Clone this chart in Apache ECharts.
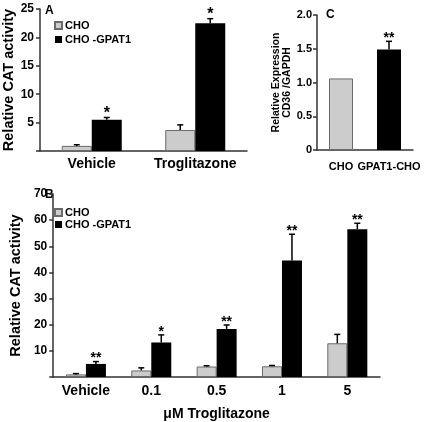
<!DOCTYPE html>
<html><head><meta charset="utf-8">
<script src="https://cdn.jsdelivr.net/npm/echarts@6/dist/echarts.min.js"></script>
<style>html,body{margin:0;padding:0;background:#fff}#c{width:430px;height:422px}</style>
</head><body><div id="c"></div>
<script>
const FONT = '"Liberation Sans", Arial, sans-serif';

// Panel A
const aCategories = ['Vehicle', 'Troglitazone'];
const aCho = [0.9, 3.7];
const aChoErr = [0.2, 0.9];
const aGpat = [5.5, 22.5];
const aGpatErr = [0.4, 0.8];
const aGpatStars = ['*', '*'];
const aYTicks = [5, 10, 15, 20, 25];

// Panel B
const bCategories = ['Vehicle', '0.1', '0.5', '1', '5'];
const bCho = [1.0, 2.5, 4.0, 4.1, 12.9];
const bChoErr = [0.3, 1.0, 0.3, 0.3, 3.4];
const bGpat = [5.0, 13.2, 18.4, 44.6, 56.5];
const bGpatErr = [0.9, 2.9, 1.5, 10.0, 2.3];
const bGpatStars = ['**', '*', '**', '**', '**'];
const bYTicks = [10, 20, 30, 40, 50, 60, 70];

// Panel C
const cCategories = ['CHO', 'GPAT1-CHO'];
const cValues = [1.06, 1.49];
const cErr = [0, 0.12];
const cStars = ['', '**'];
const cYTicks = ['0', '0.5', '1.0', '1.5', '2.0'];

const GRAY = '#cccccc', GRAY_BORDER = '#6a6a6a', BLACK = '#000';
const AX = '#333';

function errSeries(gi, vals, errs, stars, offset, starSize) {
  return {
    type: 'custom', xAxisIndex: gi, yAxisIndex: gi, silent: true, z: 5,
    data: vals.map((v, i) => [i, v, errs[i]]),
    renderItem: function (params, api) {
      const i = api.value(0), v = api.value(1), e = api.value(2);
      const p0 = api.coord([i, v]);
      const p1 = api.coord([i, v + e]);
      const x = p0[0] + offset;
      const children = [];
      if (e > 0) {
        children.push({ type: 'line', shape: { x1: x, y1: p0[1], x2: x, y2: p1[1] }, style: { stroke: '#000', lineWidth: 1.5 } });
        children.push({ type: 'line', shape: { x1: x - 3, y1: p1[1], x2: x + 3, y2: p1[1] }, style: { stroke: '#000', lineWidth: 1.5 } });
      }
      const s = stars ? stars[i] : '';
      if (s) {
        children.push({ type: 'text', x: x, y: p1[1] + 4, style: { text: s, font: 'bold ' + starSize + 'px ' + FONT, fill: '#000', align: 'center', verticalAlign: 'bottom' } });
      }
      return { type: 'group', children: children };
    }
  };
}

function yAxisBase(gi, max, interval, fs, margin, fmt) {
  return {
    type: 'value', gridIndex: gi, min: 0, max: max, interval: interval,
    axisLine: { show: true, lineStyle: { color: AX, width: 1.5 } },
    axisTick: { show: true, length: 4, lineStyle: { color: AX, width: 1.5 } },
    splitLine: { show: false },
    axisLabel: { margin: margin, color: '#000', fontFamily: FONT, fontWeight: 'bold', fontSize: fs, formatter: fmt }
  };
}

function xAxisBase(gi, cats, fs, margin) {
  return {
    type: 'category', gridIndex: gi, data: cats,
    axisLine: { show: true, lineStyle: { color: AX, width: 1.5 } },
    axisTick: { show: false },
    axisLabel: { margin: margin, color: '#000', fontFamily: FONT, fontWeight: 'bold', fontSize: fs, interval: 0 }
  };
}

const chart = echarts.init(document.getElementById('c'), null, { renderer: 'canvas' });
const grayStyle = { color: GRAY, borderColor: GRAY_BORDER, borderWidth: 1 };
const blackStyle = { color: BLACK };
const titleStyle = { color: '#000', fontFamily: FONT, fontWeight: 'bold', fontSize: 14.5 };
const legendText = { fontFamily: FONT, fontWeight: 'bold', fontSize: 11, color: '#000', padding: [0, 0, 0, -2] };

chart.setOption({
  animation: false,
  backgroundColor: '#fff',
  grid: [
    { left: 38, top: 9, width: 209, height: 142 },
    { left: 38, top: 194, width: 342, height: 186 },
    { left: 317, top: 15, width: 96, height: 135 }
  ],
  xAxis: [
    xAxisBase(0, aCategories, 14, 6),
    Object.assign(xAxisBase(1, bCategories, 14, 7), { name: 'μM Troglitazone', nameLocation: 'middle', nameGap: 30, nameTextStyle: { color: '#000', fontFamily: FONT, fontWeight: 'bold', fontSize: 14 } }),
    xAxisBase(2, cCategories, 11, 11)
  ],
  yAxis: [
    Object.assign(yAxisBase(0, 25, 5, 12, 6, v => aYTicks.indexOf(v) >= 0 ? String(v) : ''), { name: 'Relative CAT activity', nameLocation: 'middle', nameGap: 24, nameTextStyle: titleStyle }),
    Object.assign(yAxisBase(1, 70, 10, 12, 6, v => bYTicks.indexOf(v) >= 0 ? String(v) : ''), { name: 'Relative CAT activity', nameLocation: 'middle', nameGap: 24, nameTextStyle: titleStyle }),
    Object.assign(yAxisBase(2, 2, 0.5, 11, 5, v => cYTicks[Math.round(v / 0.5)]), { name: 'Relative Expression\nCD36 /GAPDH', nameLocation: 'middle', nameGap: 22, nameTextStyle: { color: '#000', fontFamily: FONT, fontWeight: 'bold', fontSize: 10.5, lineHeight: 11 } })
  ],
  legend: [
    { data: ['CHO', 'CHO -GPAT1'], orient: 'vertical', left: 49, top: 15, itemGap: 3, itemWidth: 7, itemHeight: 7, icon: 'rect', selectedMode: false, textStyle: legendText },
    { data: ['CHO', 'CHO -GPAT1'], orient: 'vertical', left: 49, top: 202, itemGap: 1, itemWidth: 7, itemHeight: 7, icon: 'rect', selectedMode: false, textStyle: legendText }
  ],
  graphic: [
    { type: 'text', left: 45, top: 5, style: { text: 'A', font: 'bold 12px ' + FONT, fill: '#000' } },
    { type: 'text', left: 45, top: 189, style: { text: 'B', font: 'bold 12px ' + FONT, fill: '#000' } },
    { type: 'text', left: 326, top: 9, style: { text: 'C', font: 'bold 12px ' + FONT, fill: '#000' } }
  ],
  series: [
    { name: 'CHO', type: 'bar', xAxisIndex: 0, yAxisIndex: 0, data: aCho, barWidth: 30, barGap: '0%', itemStyle: grayStyle },
    { name: 'CHO -GPAT1', type: 'bar', xAxisIndex: 0, yAxisIndex: 0, data: aGpat, barWidth: 30, barGap: '0%', itemStyle: blackStyle },
    errSeries(0, aCho, aChoErr, null, -15, 16),
    errSeries(0, aGpat, aGpatErr, aGpatStars, 15, 16),

    { name: 'CHO', type: 'bar', xAxisIndex: 1, yAxisIndex: 1, data: bCho, barWidth: 20, barGap: '0%', itemStyle: grayStyle },
    { name: 'CHO -GPAT1', type: 'bar', xAxisIndex: 1, yAxisIndex: 1, data: bGpat, barWidth: 20, barGap: '0%', itemStyle: blackStyle },
    errSeries(1, bCho, bChoErr, null, -10, 14),
    errSeries(1, bGpat, bGpatErr, bGpatStars, 10, 14),

    { name: 'CD36', type: 'bar', xAxisIndex: 2, yAxisIndex: 2, barWidth: 24,
      data: cValues.map((v, i) => ({ value: v, itemStyle: i === 0 ? grayStyle : blackStyle })) },
    errSeries(2, cValues, cErr, cStars, 0, 14)
  ]
});
</script>
</body></html>
